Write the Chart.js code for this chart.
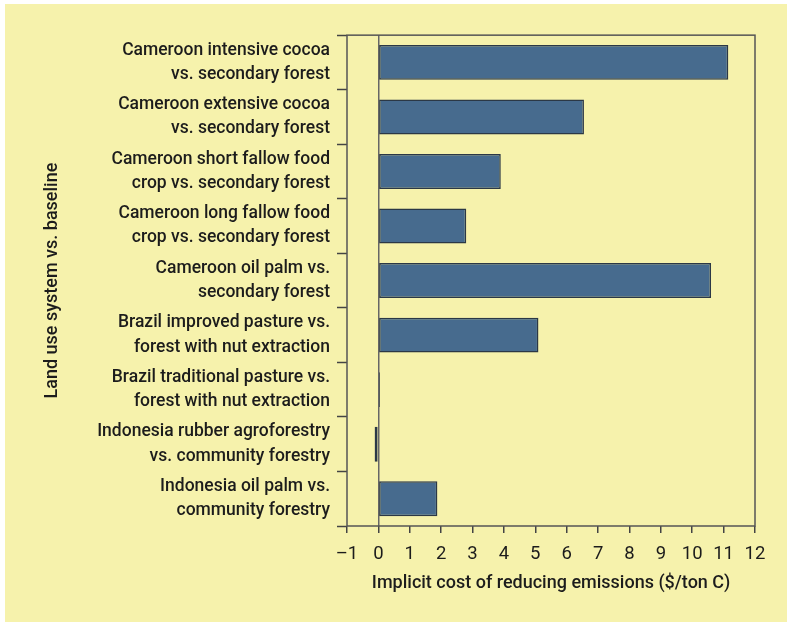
<!DOCTYPE html>
<html>
<head>
<meta charset="utf-8">
<script src="https://cdn.jsdelivr.net/npm/chart.js@4.4.1/dist/chart.umd.min.js"></script>
<style>
  html, body { margin: 0; padding: 0; background: #ffffff; }
  #panel { position: absolute; left: 5px; top: 4px; width: 782px; height: 618px; background: #f6f2ac; }
  canvas { display: block; }
</style>
</head>
<body>
<div id="panel"><canvas id="c" width="782" height="618"></canvas></div>
<script>
const categories = [
  ['Cameroon intensive cocoa', 'vs. secondary forest'],
  ['Cameroon extensive cocoa', 'vs. secondary forest'],
  ['Cameroon short fallow food', 'crop vs. secondary forest'],
  ['Cameroon long fallow food', 'crop vs. secondary forest'],
  ['Cameroon oil palm vs.', 'secondary forest'],
  ['Brazil improved pasture vs.', 'forest with nut extraction'],
  ['Brazil traditional pasture vs.', 'forest with nut extraction'],
  ['Indonesia rubber agroforestry', 'vs. community forestry'],
  ['Indonesia oil palm vs.', 'community forestry']
];
const costValues = [11.15, 6.55, 3.9, 2.8, 10.6, 5.1, 0.05, -0.12, 1.88];
const xTickValues = [-1, 0, 1, 2, 3, 4, 5, 6, 7, 8, 9, 10, 11, 12];
const xTickLabels = ['\u20131', '0', '1', '2', '3', '4', '5', '6', '7', '8', '9', '10', '11', '12'];
const xTitle = 'Implicit cost of reducing emissions ($/ton C)';
const yTitle = 'Land use system vs. baseline';

const FONT = 'Roboto, "Liberation Sans", sans-serif';
const TEXT = '#1c1c1c';
const LINE = '#555555';

const frame = {
  id: 'frame',
  beforeDatasetsDraw(chart) {
    const a = chart.chartArea, ctx = chart.ctx;
    ctx.save();
    ctx.strokeStyle = LINE;
    ctx.lineWidth = 1.5;
    ctx.strokeRect(a.left, a.top, a.right - a.left, a.bottom - a.top);
    ctx.restore();
  }
};

new Chart(document.getElementById('c'), {
  type: 'bar',
  data: {
    labels: categories,
    datasets: [{
      data: costValues,
      backgroundColor: '#476b8e',
      borderColor: '#2b3846',
      borderWidth: 1.5,
      borderSkipped: false,
      categoryPercentage: 1,
      barPercentage: 0.64
    }]
  },
  options: {
    indexAxis: 'y',
    responsive: false,
    animation: false,
    layout: { padding: { left: 33, right: 32, top: 31, bottom: 24 } },
    plugins: { legend: { display: false }, tooltip: { enabled: false } },
    scales: {
      x: {
        type: 'linear',
        min: -1, max: 12,
        afterBuildTicks(scale) { scale.ticks = xTickValues.map(v => ({ value: v })); },
        afterFit(scale) { scale.height = 72; },
        border: { display: false },
        grid: {
          color: ctx => (ctx.tick && ctx.tick.value === 0) ? '#666666' : 'rgba(0,0,0,0)',
          lineWidth: 1.5,
          tickColor: '#444444',
          tickLength: 7,
          tickWidth: 1.5
        },
        ticks: {
          autoSkip: false,
          maxRotation: 0,
          padding: 10,
          color: TEXT,
          font: { family: FONT, size: 18.5 },
          callback: (v) => xTickLabels[xTickValues.indexOf(v)]
        },
        title: {
          display: true,
          text: xTitle,
          color: TEXT,
          font: { family: FONT, size: 18, weight: '500' },
          padding: { top: 4, bottom: 4 }
        }
      },
      y: {
        afterFit(scale) { scale.width = 309; },
        border: { display: false },
        grid: {
          offset: true,
          drawOnChartArea: false,
          tickColor: '#444444',
          tickLength: 10,
          tickWidth: 1.5
        },
        ticks: {
          padding: 7,
          color: TEXT,
          font: { family: FONT, size: 17.5, weight: '500', lineHeight: 1.38 }
        },
        title: {
          display: true,
          text: yTitle,
          color: TEXT,
          font: { family: FONT, size: 18, weight: '500' },
          padding: { top: 4, bottom: 4 }
        }
      }
    }
  },
  plugins: [frame]
});
</script>
</body>
</html>
